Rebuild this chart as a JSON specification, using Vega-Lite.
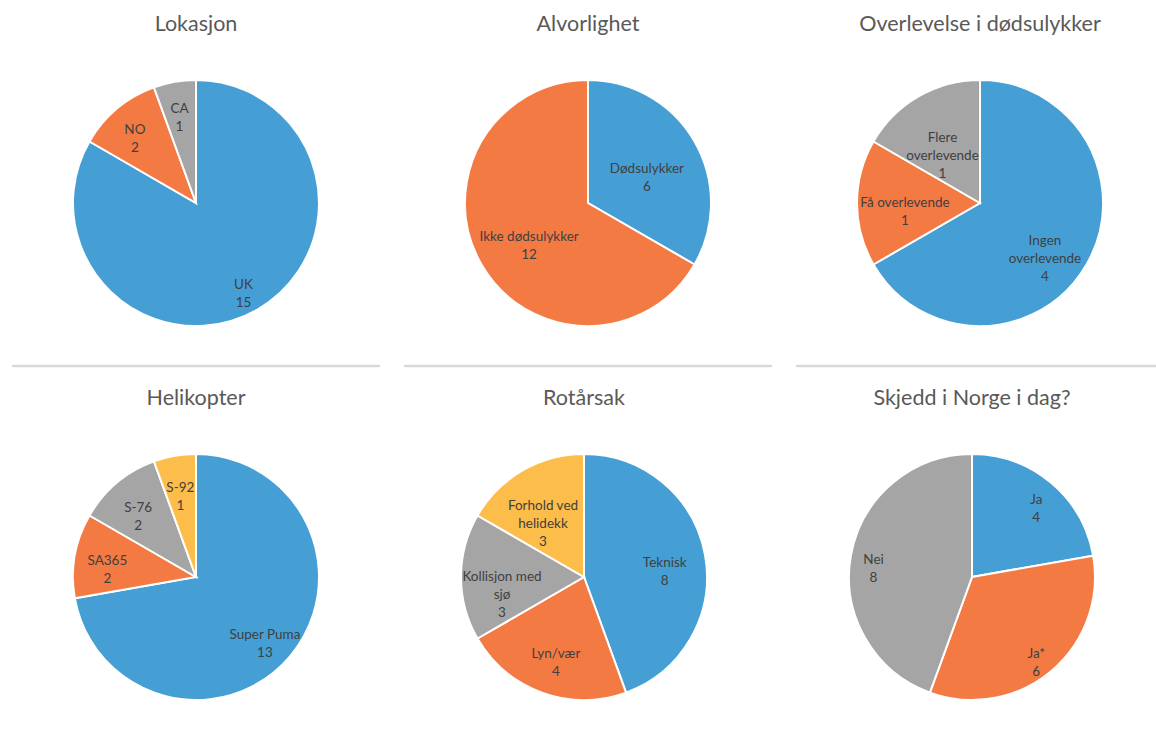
{
  "$schema": "https://vega.github.io/schema/vega-lite/v6.json",
  "background": "white",
  "padding": {"left": 10, "top": 13, "right": 0, "bottom": 0},
  "config": {
    "view": {"stroke": null},
    "font": "Lato",
    "title": {"fontSize": 21.5, "fontWeight": "normal", "color": "#595959", "font": "Lato", "offset": 5, "anchor": "middle"},
    "text": {"font": "Lato", "fontSize": 13.5, "color": "#404040", "lineHeight": 18}
  },
  "data": {"values": [
    {"chart": "Lokasjon", "i": 1, "label": "UK", "value": 15},
    {"chart": "Lokasjon", "i": 2, "label": "NO", "value": 2},
    {"chart": "Lokasjon", "i": 3, "label": "CA", "value": 1},
    {"chart": "Alvorlighet", "i": 1, "label": "Dødsulykker", "value": 6},
    {"chart": "Alvorlighet", "i": 2, "label": "Ikke dødsulykker", "value": 12},
    {"chart": "Overlevelse", "i": 1, "label": "Ingen\noverlevende", "value": 4},
    {"chart": "Overlevelse", "i": 2, "label": "Få overlevende", "value": 1},
    {"chart": "Overlevelse", "i": 3, "label": "Flere\noverlevende", "value": 1},
    {"chart": "Helikopter", "i": 1, "label": "Super Puma", "value": 13},
    {"chart": "Helikopter", "i": 2, "label": "SA365", "value": 2},
    {"chart": "Helikopter", "i": 3, "label": "S-76", "value": 2},
    {"chart": "Helikopter", "i": 4, "label": "S-92", "value": 1},
    {"chart": "Rotårsak", "i": 1, "label": "Teknisk", "value": 8},
    {"chart": "Rotårsak", "i": 2, "label": "Lyn/vær", "value": 4},
    {"chart": "Rotårsak", "i": 3, "label": "Kollisjon med\nsjø", "value": 3},
    {"chart": "Rotårsak", "i": 4, "label": "Forhold ved\nhelidekk", "value": 3},
    {"chart": "Norge", "i": 1, "label": "Ja", "value": 4},
    {"chart": "Norge", "i": 2, "label": "Ja*", "value": 6},
    {"chart": "Norge", "i": 3, "label": "Nei", "value": 8}
  ]},
  "transform": [{"calculate": "datum.label + '\\n' + datum.value", "as": "txt"}],
  "resolve": {"scale": {"color": "shared"}},
  "vconcat": [
    {
      "spacing": 20,
      "hconcat": [
        {
          "title": "Lokasjon", "width": 368, "height": 326,
          "transform": [{"filter": "datum.chart == 'Lokasjon'"}],
          "layer": [
            {"mark": {"type": "arc", "outerRadius": 123, "stroke": "white", "strokeWidth": 2},
             "encoding": {"theta": {"field": "value", "type": "quantitative", "stack": true},
                          "color": {"field": "i", "type": "ordinal", "scale": {"domain": [1, 2, 3, 4], "range": ["#459fd5", "#f47a44", "#a5a5a5", "#fdbd4a"]}, "legend": null},
                          "order": {"field": "i", "type": "quantitative"}}},
            {"mark": {"type": "text", "radius": 95, "lineBreak": "\n"},
             "encoding": {"theta": {"field": "value", "type": "quantitative", "stack": true},
                          "order": {"field": "i", "type": "quantitative"},
                          "text": {"field": "txt"}}},
            {"data": {"values": [{}]}, "mark": {"type": "rule", "color": "#dadada", "strokeWidth": 2.5},
             "encoding": {"y": {"datum": 0, "type": "quantitative", "scale": {"domain": [0, 1]}, "axis": null}}}
          ]
        },
        {
          "title": "Alvorlighet", "width": 368, "height": 326,
          "transform": [{"filter": "datum.chart == 'Alvorlighet'"}],
          "layer": [
            {"mark": {"type": "arc", "outerRadius": 123, "stroke": "white", "strokeWidth": 2},
             "encoding": {"theta": {"field": "value", "type": "quantitative", "stack": true},
                          "color": {"field": "i", "type": "ordinal", "scale": {"domain": [1, 2, 3, 4], "range": ["#459fd5", "#f47a44", "#a5a5a5", "#fdbd4a"]}, "legend": null},
                          "order": {"field": "i", "type": "quantitative"}}},
            {"mark": {"type": "text", "radius": 68, "lineBreak": "\n"},
             "encoding": {"theta": {"field": "value", "type": "quantitative", "stack": true},
                          "order": {"field": "i", "type": "quantitative"},
                          "text": {"field": "txt"}}},
            {"data": {"values": [{}]}, "mark": {"type": "rule", "color": "#dadada", "strokeWidth": 2.5},
             "encoding": {"y": {"datum": 0, "type": "quantitative", "scale": {"domain": [0, 1]}, "axis": null}}}
          ]
        },
        {
          "title": "Overlevelse i dødsulykker", "width": 368, "height": 326,
          "transform": [{"filter": "datum.chart == 'Overlevelse'"}],
          "layer": [
            {"mark": {"type": "arc", "outerRadius": 123, "stroke": "white", "strokeWidth": 2},
             "encoding": {"theta": {"field": "value", "type": "quantitative", "stack": true},
                          "color": {"field": "i", "type": "ordinal", "scale": {"domain": [1, 2, 3, 4], "range": ["#459fd5", "#f47a44", "#a5a5a5", "#fdbd4a"]}, "legend": null},
                          "order": {"field": "i", "type": "quantitative"}}},
            {"mark": {"type": "text", "radius": 75, "lineBreak": "\n"},
             "encoding": {"theta": {"field": "value", "type": "quantitative", "stack": true},
                          "order": {"field": "i", "type": "quantitative"},
                          "text": {"field": "txt"}}},
            {"data": {"values": [{}]}, "mark": {"type": "rule", "color": "#dadada", "strokeWidth": 2.5},
             "encoding": {"y": {"datum": 0, "type": "quantitative", "scale": {"domain": [0, 1]}, "axis": null}}}
          ]
        }
      ]
    },
    {
      "spacing": 20,
      "hconcat": [
        {
          "title": "Helikopter", "width": 368, "height": 326,
          "transform": [{"filter": "datum.chart == 'Helikopter'"}],
          "layer": [
            {"mark": {"type": "arc", "outerRadius": 123, "stroke": "white", "strokeWidth": 2},
             "encoding": {"theta": {"field": "value", "type": "quantitative", "stack": true},
                          "color": {"field": "i", "type": "ordinal", "scale": {"domain": [1, 2, 3, 4], "range": ["#459fd5", "#f47a44", "#a5a5a5", "#fdbd4a"]}, "legend": null},
                          "order": {"field": "i", "type": "quantitative"}}},
            {"mark": {"type": "text", "radius": 90, "lineBreak": "\n"},
             "encoding": {"theta": {"field": "value", "type": "quantitative", "stack": true},
                          "order": {"field": "i", "type": "quantitative"},
                          "text": {"field": "txt"}}}
          ]
        },
        {
          "title": "Rotårsak", "width": 368, "height": 326,
          "transform": [{"filter": "datum.chart == 'Rotårsak'"}],
          "layer": [
            {"mark": {"type": "arc", "outerRadius": 123, "stroke": "white", "strokeWidth": 2},
             "encoding": {"theta": {"field": "value", "type": "quantitative", "stack": true},
                          "color": {"field": "i", "type": "ordinal", "scale": {"domain": [1, 2, 3, 4], "range": ["#459fd5", "#f47a44", "#a5a5a5", "#fdbd4a"]}, "legend": null},
                          "order": {"field": "i", "type": "quantitative"}}},
            {"mark": {"type": "text", "radius": 82, "lineBreak": "\n"},
             "encoding": {"theta": {"field": "value", "type": "quantitative", "stack": true},
                          "order": {"field": "i", "type": "quantitative"},
                          "text": {"field": "txt"}}}
          ]
        },
        {
          "title": "Skjedd i Norge i dag?", "width": 368, "height": 326,
          "transform": [{"filter": "datum.chart == 'Norge'"}],
          "layer": [
            {"mark": {"type": "arc", "outerRadius": 123, "stroke": "white", "strokeWidth": 2},
             "encoding": {"theta": {"field": "value", "type": "quantitative", "stack": true},
                          "color": {"field": "i", "type": "ordinal", "scale": {"domain": [1, 2, 3, 4], "range": ["#459fd5", "#f47a44", "#a5a5a5", "#fdbd4a"]}, "legend": null},
                          "order": {"field": "i", "type": "quantitative"}}},
            {"mark": {"type": "text", "radius": 100, "lineBreak": "\n"},
             "encoding": {"theta": {"field": "value", "type": "quantitative", "stack": true},
                          "order": {"field": "i", "type": "quantitative"},
                          "text": {"field": "txt"}}}
          ]
        }
      ]
    }
  ],
  "spacing": 19
}
